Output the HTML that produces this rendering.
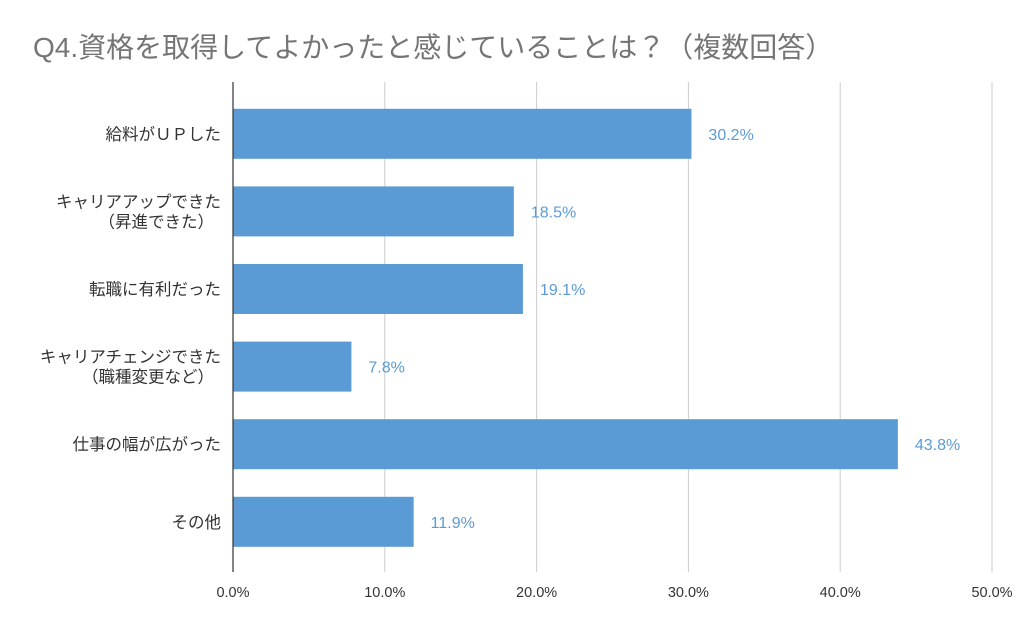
<!DOCTYPE html>
<html><head><meta charset="utf-8">
<style>
body{margin:0;background:#fff;width:1024px;height:632px;overflow:hidden;font-family:"Liberation Sans","Noto Sans CJK JP",sans-serif;}
svg text{font-family:"Liberation Sans","Noto Sans CJK JP",sans-serif;}
</style></head>
<body>
<svg id="chart" width="1024" height="632">
<text x="33" y="57" font-size="28" fill="#757575">Q4.資格を取得してよかったと感じていることは？（複数回答）</text>
<g id="grid"></g><g id="bars"></g>
</svg>
<script>
const categories=[["給料がＵＰした"],["キャリアアップできた","（昇進できた）"],["転職に有利だった"],["キャリアチェンジできた","（職種変更など）"],["仕事の幅が広がった"],["その他"]];
const values=[30.2,18.5,19.1,7.8,43.8,11.9];
const valueLabels=["30.2%","18.5%","19.1%","7.8%","43.8%","11.9%"];
const ticks=[0,10,20,30,40,50];
const tickLabels=["0.0%","10.0%","20.0%","30.0%","40.0%","50.0%"];
const ns="http://www.w3.org/2000/svg";
const x0=233,x1=992,yTop=82,yBot=572,bandStart=95,band=77.6,barH=50;
const xs=v=>x0+(x1-x0)*v/50;
const yc=i=>bandStart+band*(i+0.5);
function mk(t,a,p){const e=document.createElementNS(ns,t);for(const k in a)e.setAttribute(k,a[k]);p.appendChild(e);return e;}
const g=document.getElementById('grid'),b=document.getElementById('bars');
ticks.forEach((t,i)=>{
 if(i>0){const l=mk('line',{x1:xs(t),x2:xs(t),y1:yTop,y2:yBot,stroke:'#cccccc','stroke-width':1},g);
 
 }
 const tx=mk('text',{x:xs(t),y:597,'font-size':14.5,fill:'#333','text-anchor':'middle'},g);
 tx.textContent=tickLabels[i];
 
 
});
values.forEach((v,i)=>{
 const r=mk('rect',{x:x0,y:yc(i)-barH/2,width:xs(v)-x0,height:barH,fill:'#5b9bd5'},b);
 
 
 const t=mk('text',{x:xs(v)+17,y:yc(i)+6,'font-size':16,fill:'#5b9bd5'},b);
 t.textContent=valueLabels[i];
 
 
 const lines=categories[i];
 lines.forEach((s,j)=>{
  const c=mk('text',{x:lines.length>1&&j==1?214:221,y:yc(i)+6+(j-(lines.length-1)/2)*20,'font-size':16.5,fill:'#333','text-anchor':'end'},b);
  c.textContent=s;
  
  
 });
});
const ax=mk('line',{x1:x0,x2:x0,y1:yTop,y2:yBot,stroke:'#333','stroke-width':1.2},b);


</script>
</body></html>
